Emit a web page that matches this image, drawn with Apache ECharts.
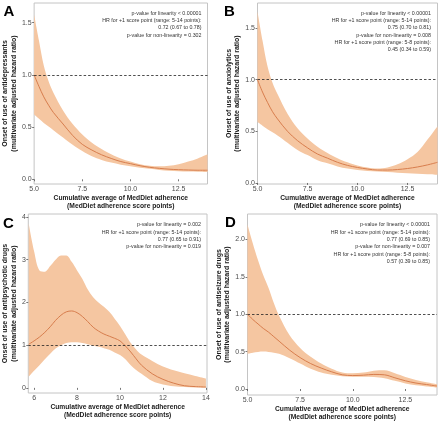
<!DOCTYPE html>
<html><head><meta charset="utf-8">
<script src="https://cdn.jsdelivr.net/npm/echarts@6/dist/echarts.min.js"></script>
<style>html,body{margin:0;padding:0;background:#fff}#c{width:440px;height:422px}</style>
</head><body><div id="c"></div>
<script>
// ---- Panel A: antidepressants ----
const xA    = [5, 5.25, 5.5, 5.75, 6, 6.5, 7, 7.5, 8, 8.5, 9, 9.5, 10, 10.5, 11, 11.5, 12, 12.5, 13, 13.5, 14];
const lineA = [1.0, 0.89, 0.79, 0.71, 0.64, 0.53, 0.42, 0.335, 0.28, 0.235, 0.2, 0.17, 0.15, 0.13, 0.115, 0.105, 0.097, 0.092, 0.089, 0.087, 0.087];
const upA   = [1.58, 1.33, 1.09, 0.94, 0.83, 0.66, 0.53, 0.43, 0.35, 0.29, 0.24, 0.2, 0.17, 0.145, 0.13, 0.125, 0.13, 0.145, 0.17, 0.2, 0.24];
const lowA  = [0.62, 0.58, 0.54, 0.505, 0.47, 0.4, 0.33, 0.27, 0.22, 0.185, 0.16, 0.14, 0.125, 0.11, 0.1, 0.09, 0.083, 0.078, 0.074, 0.072, 0.07];
const xTicksA = [5, 7.5, 10, 12.5];
const yTicksA = [0, 0.5, 1, 1.5];
const notesA = ["p-value for linearity < 0.00001", "HR for +1 score point (range: 5-14 points):", "0.72 (0.67 to 0.78)", "p-value for non-linearity = 0.302"];

// ---- Panel B: anxiolytics ----
const xB    = [5, 5.25, 5.5, 5.75, 6, 6.5, 7, 7.5, 8, 8.5, 9, 9.5, 10, 10.5, 11, 11.5, 12, 12.5, 13, 13.5, 14];
const lineB = [1.0, 0.88, 0.78, 0.69, 0.62, 0.5, 0.41, 0.34, 0.28, 0.24, 0.2, 0.17, 0.15, 0.135, 0.125, 0.125, 0.13, 0.14, 0.155, 0.175, 0.2];
const upB   = [1.66, 1.38, 1.13, 0.97, 0.86, 0.67, 0.53, 0.43, 0.35, 0.29, 0.24, 0.2, 0.17, 0.15, 0.14, 0.15, 0.18, 0.23, 0.3, 0.42, 0.55];
const lowB  = [0.59, 0.555, 0.52, 0.49, 0.46, 0.39, 0.32, 0.27, 0.22, 0.19, 0.16, 0.14, 0.125, 0.115, 0.11, 0.105, 0.1, 0.095, 0.09, 0.085, 0.08];
const xTicksB = [5, 7.5, 10, 12.5];
const yTicksB = [0, 0.5, 1, 1.5];
const notesB = ["p-value for linearity < 0.00001", "HR for +1 score point (range: 5-14 points):", "0.75 (0.70 to 0.81)", "p-value for non-linearity = 0.008", "HR for +1 score point (range: 5-8 points):", "0.45 (0.34 to 0.59)"];

// ---- Panel C: antipsychotic drugs ----
const xC    = [5.75, 6, 6.25, 6.5, 6.75, 7, 7.25, 7.5, 7.75, 8, 8.25, 8.5, 8.75, 9, 9.25, 9.5, 9.75, 10, 10.25, 10.5, 10.75, 11, 11.5, 12, 12.5, 13, 13.5, 14];
const lineC = [1.02, 1.1, 1.19, 1.3, 1.43, 1.58, 1.7, 1.78, 1.8, 1.76, 1.67, 1.55, 1.42, 1.33, 1.26, 1.21, 1.16, 1.1, 0.98, 0.84, 0.68, 0.53, 0.33, 0.2, 0.11, 0.05, 0.03, 0.02];
const upC   = [3.85, 3.2, 2.75, 2.72, 2.85, 3.0, 3.1, 3.1, 2.95, 2.75, 2.55, 2.3, 2.12, 2.0, 1.9, 1.78, 1.62, 1.45, 1.25, 1.05, 0.9, 0.78, 0.63, 0.5, 0.41, 0.34, 0.28, 0.22];
const lowC  = [0.26, 0.4, 0.53, 0.67, 0.8, 0.92, 1.0, 1.05, 1.07, 1.07, 1.05, 1.02, 0.99, 0.96, 0.93, 0.89, 0.83, 0.77, 0.67, 0.53, 0.42, 0.33, 0.16, 0.08, 0.04, 0.02, 0.01, 0.005];
const xTicksC = [6, 8, 10, 12, 14];
const yTicksC = [0, 1, 2, 3, 4];
const notesC = ["p-value for linearity = 0.002", "HR for +1 score point (range: 5-14 points):", "0.77 (0.65 to 0.91)", "p-value for non-linearity = 0.019"];

// ---- Panel D: antiseizure drugs ----
const xD    = [5, 5.25, 5.5, 5.75, 6, 6.25, 6.5, 7, 7.5, 8, 8.5, 9, 9.5, 10, 10.5, 11, 11.5, 12, 12.5, 13, 13.5, 14];
const lineD = [1.0, 0.93, 0.87, 0.81, 0.76, 0.7, 0.64, 0.52, 0.42, 0.34, 0.28, 0.23, 0.19, 0.18, 0.185, 0.195, 0.19, 0.15, 0.11, 0.08, 0.06, 0.04];
const upD   = [2.2, 1.95, 1.72, 1.52, 1.35, 1.15, 0.98, 0.72, 0.55, 0.43, 0.34, 0.27, 0.22, 0.21, 0.22, 0.245, 0.25, 0.21, 0.16, 0.12, 0.09, 0.065];
const lowD  = [0.47, 0.485, 0.495, 0.5, 0.495, 0.485, 0.47, 0.41, 0.34, 0.27, 0.22, 0.19, 0.17, 0.165, 0.165, 0.16, 0.145, 0.11, 0.075, 0.05, 0.035, 0.02];
const xTicksD = [5, 7.5, 10, 12.5];
const yTicksD = [0, 0.5, 1, 1.5, 2];
const notesD = ["p-value for linearity < 0.00001", "HR for +1 score point (range: 5-14 points):", "0.77 (0.69 to 0.85)", "p-value for non-linearity = 0.007", "HR for +1 score point (range: 5-8 points):", "0.57 (0.39 to 0.85)"];

const letters = ["A", "B", "C", "D"];
const yNames = [
  "Onset of use of antidepressants\n(multivariate adjusted hazard ratio)",
  "Onset of use of anxiolytics\n(multivariate adjusted hazard ratio)",
  "Onset of use of antipsychotic drugs\n(multivariate adjusted hazard ratio)",
  "Onset of use of antiseizure drugs\n(multivariate adjusted hazard ratio)"
];
const xName = "Cumulative average of MedDiet adherence\n(MedDiet adherence score points)";
const refLine = 1;

// ---- layout / styling ----
const FONT = '"Liberation Sans", Arial, sans-serif';
const BAND = '#f5c6a1', LINE = '#d77d4d';
const panels = [
  {x:xA, line:lineA, up:upA, low:lowA, xt:xTicksA, yt:yTicksA, notes:notesA, dec:1,
   grid:{left:27.5, top:3, width:180, height:181}, xr:[5,14], yr:[-0.045,1.689], xGap:8, yGap:7,
   letter:[3.5,4.5], note:[201.5,9.6]},
  {x:xB, line:lineB, up:upB, low:lowB, xt:xTicksB, yt:yTicksB, notes:notesB, dec:1,
   grid:{left:257.5, top:3, width:180, height:181}, xr:[5,14], yr:[-0.01,1.742], xGap:8, yGap:7,
   letter:[224,4.5], note:[431,9.6]},
  {x:xC, line:lineC, up:upC, low:lowC, xt:xTicksC, yt:yTicksC, notes:notesC, dec:0,
   grid:{left:22.5, top:214, width:184.5, height:179}, xr:[5.73,14.05], yr:[-0.12,4.07], xGap:10, yGap:7,
   letter:[3,216], note:[201,221.3]},
  {x:xD, line:lineD, up:upD, low:lowD, xt:xTicksD, yt:yTicksD, notes:notesD, dec:1,
   grid:{left:247.5, top:214, width:189.5, height:181}, xr:[5,14], yr:[-0.08,2.34], xGap:9, yGap:7,
   letter:[225,215.5], note:[430,221.3]}
];

const grids = [], xAxes = [], yAxes = [], series = [], graphics = [];
panels.forEach((p, i) => {
  grids.push(Object.assign({show:true, borderColor:'#c4c4c4', borderWidth:1, backgroundColor:'transparent'}, p.grid));
  const fmt = v => v.toFixed(p.dec);
  xAxes.push({type:'value', gridIndex:i, min:p.xr[0], max:p.xr[1],
    axisLine:{show:false}, splitLine:{show:false},
    axisTick:{show:true, customValues:p.xt, length:2, lineStyle:{color:'#555', width:0.8}},
    axisLabel:{customValues:p.xt, formatter:fmt, fontSize:7, color:'#4d4d4d', margin:2, fontFamily:FONT},
    name:xName, nameLocation:'middle', nameGap:p.xGap,
    nameTextStyle:{fontWeight:'bold', fontSize:6.7, lineHeight:8, color:'#1a1a1a', fontFamily:FONT}});
  yAxes.push({type:'value', gridIndex:i, min:p.yr[0], max:p.yr[1],
    axisLine:{show:false}, splitLine:{show:false},
    axisTick:{show:true, customValues:p.yt, length:2, lineStyle:{color:'#555', width:0.8}},
    axisLabel:{customValues:p.yt, formatter:fmt, fontSize:7, color:'#4d4d4d', margin:2.5, fontFamily:FONT},
    name:yNames[i], nameLocation:'middle', nameGap:p.yGap, nameRotate:90,
    nameTextStyle:{fontWeight:'bold', fontSize:7, lineHeight:8.5, color:'#1a1a1a', fontFamily:FONT}});
  const sm = 0.35;
  // band: data stored as [y, x] so that the stacked (first numeric) dimension is y
  series.push({type:'line', xAxisIndex:i, yAxisIndex:i, stack:'band'+i, symbol:'none', smooth:sm, silent:true,
    encode:{x:1, y:0}, lineStyle:{width:0, opacity:0}, data:p.x.map((v,j)=>[p.low[j], v]), z:1});
  series.push({type:'line', xAxisIndex:i, yAxisIndex:i, stack:'band'+i, symbol:'none', smooth:sm, silent:true,
    encode:{x:1, y:0}, lineStyle:{width:0, opacity:0}, areaStyle:{color:BAND, opacity:1},
    data:p.x.map((v,j)=>[+(p.up[j]-p.low[j]).toFixed(4), v]), z:1});
  series.push({type:'line', xAxisIndex:i, yAxisIndex:i, symbol:'none', smooth:sm, silent:true,
    lineStyle:{color:LINE, width:1}, data:p.x.map((v,j)=>[v, p.line[j]]), z:3,
    markLine:{silent:true, symbol:'none', label:{show:false}, animation:false,
      lineStyle:{color:'#222', type:[2.5,2], width:0.8}, data:[{yAxis:refLine}]}});
  graphics.push({type:'text', x:p.letter[0], y:p.letter[1], z:100,
    style:{text:letters[i], font:'bold 15px ' + FONT, fill:'#000', textVerticalAlign:'top'}});
  graphics.push({type:'text', x:p.note[0], y:p.note[1], z:100,
    style:{text:p.notes.join('\n'), font:'5.3px ' + FONT, fill:'#333', textAlign:'right', textVerticalAlign:'top', lineHeight:7.3}});
});

const chart = echarts.init(document.getElementById('c'), null, {renderer:'canvas'});
chart.setOption({animation:false, grid:grids, xAxis:xAxes, yAxis:yAxes, series:series, graphic:graphics});
</script></body></html>
